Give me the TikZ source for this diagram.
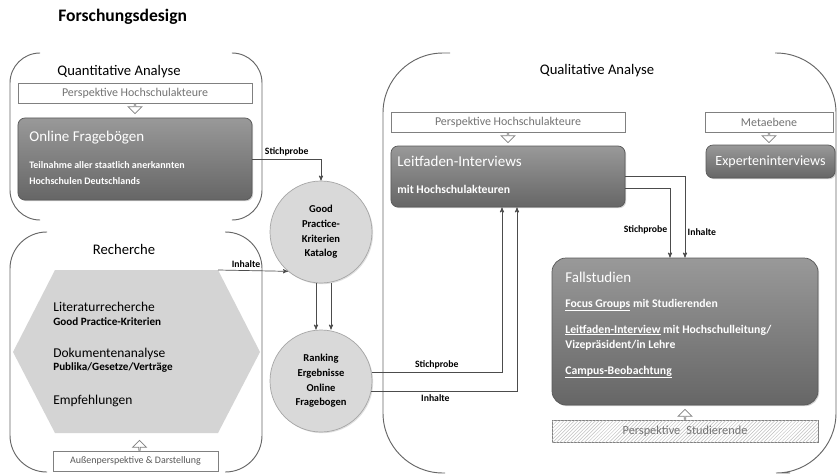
\documentclass[tikz,border=0pt]{standalone}
\usepackage{fontspec}
\setmainfont{Carlito}
\usetikzlibrary{arrows,shapes.arrows,shadows,patterns,positioning}

\begin{document}
\begin{tikzpicture}[x=0.03cm, y=-0.03cm, >=stealth', semithick]
	\tikzstyle{frame}=[draw=black!60, line width=0.8pt, rounded corners=0.9cm]
	\tikzstyle{persp}=[draw=black!50, fill=white, text=black!55, font=\fontsize{10.2}{12}\selectfont, minimum height=0.6cm, inner sep=0pt]
	\tikzstyle{darkbox}=[draw=black!65, top color=black!40, bottom color=black!60, rounded corners=6pt, drop shadow={opacity=0.35, shadow xshift=1pt, shadow yshift=-1pt}]
	\tikzstyle{bubble}=[circle, draw=black!35, fill=black!15, minimum size=3.06cm, align=center, inner sep=0pt, font=\bfseries\fontsize{9}{12.5}\selectfont, drop shadow={opacity=0.25, shadow xshift=1pt, shadow yshift=-1pt}]
	\tikzstyle{hollowarrow}=[single arrow, draw=black!50, fill=white, shape border rotate=270, minimum width=0.42cm, minimum height=0.3cm, single arrow head extend=0.1cm, inner sep=0pt]
	\tikzstyle{link}=[->, draw=black!70, line width=0.6pt]
	\tikzstyle{lbl}=[font=\bfseries\fontsize{8.3}{9}\selectfont, inner sep=2pt]
	\tikzstyle{head}=[font=\fontsize{12.5}{14}\selectfont, anchor=base, inner sep=0pt]
	\tikzstyle{whead}=[text=white, font=\fontsize{12.8}{14}\selectfont, anchor=base west, inner sep=0pt]
	\tikzstyle{wtext}=[text=white, font=\bfseries\fontsize{8.5}{10}\selectfont, anchor=base west, inner sep=0pt]
	\tikzstyle{htext}=[font=\fontsize{11.5}{13}\selectfont, anchor=base west, inner sep=0pt]
	\tikzstyle{hsub}=[font=\bfseries\fontsize{9.5}{11}\selectfont, anchor=base west, inner sep=0pt]

	\fill[white] (0,0) rectangle (839,475);
	\useasboundingbox (0,0) rectangle (839,475);

	\node[font=\bfseries\fontsize{15}{17}\selectfont, anchor=base west, inner sep=0pt] (title) at (58,21) {Forschungsdesign};

	% Quantitative Analyse
	\draw[frame] (40,53) -- (10,53) -- (10,220) -- (40,220);
	\draw[frame] (232,53) -- (262,53) -- (262,220) -- (232,220);
	\node[head] (quant) at (119,75) {Quantitative Analyse};
	\node[persp, minimum width=7.02cm] (perspQ) at (135,93) {Perspektive Hochschulakteure};
	\node[hollowarrow, anchor=tail] (arrQ) at (perspQ.south) {};
	\node[darkbox, minimum width=7.02cm, minimum height=2.46cm] (online) at (135,159) {};
	\node[whead] (onlineT) at (29,141) {Online Fragebögen};
	\node[wtext] (onlineA) at (29,168) {Teilnahme aller staatlich anerkannten};
	\node[wtext] (onlineB) at (29,184) {Hochschulen Deutschlands};

	% Recherche
	\draw[frame, rounded corners=1.1cm] (47,232) -- (10,232) -- (10,472) -- (47,472);
	\draw[frame, rounded corners=1.1cm] (225,232) -- (262,232) -- (262,472) -- (225,472);
	\node[head] (rech) at (124,254) {Recherche};
	\fill[black!17] (55,270) -- (218,270) -- (260,352) -- (218,433) -- (55,433) -- (13,352) -- cycle;
	\coordinate (hexNE) at (218,270);
	\node[htext] (lit) at (53,311) {Literaturrecherche};
	\node[hsub] (litS) at (53,325) {Good Practice-Kriterien};
	\node[htext] (dok) at (53,357) {Dokumentenanalyse};
	\node[hsub] (dokS) at (53,370) {Publika/Gesetze/Verträge};
	\node[htext] (empf) at (53,404) {Empfehlungen};
	\node[persp, text=black!65, font=\fontsize{8.5}{10}\selectfont, minimum width=4.95cm] (aussen) at (135.5,461) {Außenperspektive \& Darstellung};
	\node[hollowarrow, shape border rotate=90, anchor=tail] (arrA) at ([xshift=0.12cm]aussen.north) {};

	% Kataloge
	\node[bubble] (gpk) at (321,232) {Good\\Practice-\\Kriterien\\Katalog};
	\node[bubble] (rank) at (321,381) {Ranking\\Ergebnisse\\Online\\Fragebogen};

	% Qualitative Analyse
	\draw[frame, rounded corners=1.8cm] (450,53) -- (383,53) -- (383,473) -- (445,473);
	\draw[frame, rounded corners=1.8cm] (775,53) -- (836,53) -- (836,473) -- (790,473);
	\node[head] (qual) at (597,74) {Qualitative Analyse};
	\node[persp, minimum width=7.02cm] (perspL) at (508,122) {Perspektive Hochschulakteure};
	\node[hollowarrow, anchor=tail] (arrL) at (perspL.south) {};
	\node[persp, minimum width=3.84cm] (meta) at (769,122) {Metaebene};
	\node[hollowarrow, anchor=tail] (arrM) at (meta.south) {};
	\node[darkbox, minimum width=7.02cm, minimum height=1.83cm] (leit) at (508,176.5) {};
	\node[whead] (leitT) at (397,166) {Leitfaden-Interviews};
	\node[wtext, font=\bfseries\fontsize{10}{12}\selectfont] (leitS) at (397,193) {mit Hochschulakteuren};
	\node[darkbox, minimum width=3.87cm, minimum height=0.99cm, text=white, font=\fontsize{12}{14}\selectfont] (expert) at (770.5,161.5) {Experteninterviews};
	\node[darkbox, rounded corners=12pt, minimum width=7.98cm, minimum height=4.41cm] (fall) at (685,331.5) {};
	\node[whead] (fallT) at (565,282) {Fallstudien};
	\node[wtext, font=\bfseries\fontsize{10}{12}\selectfont] (fallA) at (565,307) {\underline{Focus Groups} mit Studierenden};
	\node[wtext, font=\bfseries\fontsize{10}{12}\selectfont] (fallB) at (565,333) {\underline{Leitfaden-Interview} mit Hochschulleitung/};
	\node[wtext, font=\bfseries\fontsize{10}{12}\selectfont] (fallC) at (565,348) {Vizepräsident/in Lehre};
	\node[wtext, font=\bfseries\fontsize{10}{12}\selectfont] (fallD) at (565,374) {\underline{Campus-Beobachtung}};
	\node[persp, fill=white, postaction={pattern=north east lines, pattern color=black!25}, font=\fontsize{10.5}{12}\selectfont, minimum width=7.98cm, minimum height=0.66cm] (studP) at (685,431) {Perspektive\enspace Studierende};
	\node[hollowarrow, shape border rotate=90, anchor=tail] (arrS) at (studP.north) {};

	% Verbindungen
	\draw[link] (online.east) -| (gpk.north) node[lbl, pos=0.25, above] {Stichprobe};
	\draw[link] (hexNE) -- (gpk.230) node[lbl, pos=0.4, above] {Inhalte};
	\draw[link] ([xshift=-0.15cm]gpk.south) -- ([xshift=-0.15cm]rank.north);
	\draw[link] ([xshift=0.3cm]gpk.south) -- ([xshift=0.3cm]rank.north);
	\draw[link] (rank.10) -| ([xshift=-0.18cm]leit.south) node[lbl, pos=0.25, above] {Stichprobe};
	\draw[link] (rank.-12) -| ([xshift=0.27cm]leit.south) node[lbl, pos=0.22, below] {Inhalte};
	\draw[link] (leit.east) -| (fall.north) node[lbl, pos=0.84, right] {Inhalte};
	\draw[link] ([yshift=-0.36cm]leit.east) -| ([xshift=-0.45cm]fall.north) node[lbl, pos=0.8, left] {Stichprobe};
\end{tikzpicture}
\end{document}
